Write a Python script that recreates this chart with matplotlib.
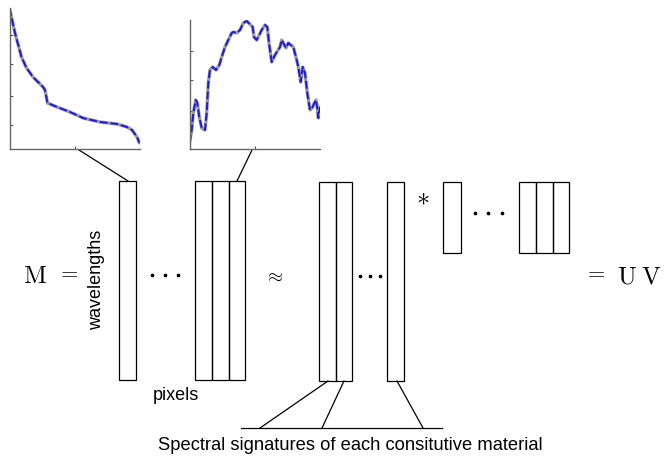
import matplotlib
matplotlib.use("Agg")
import matplotlib.pyplot as plt
from matplotlib.patches import Rectangle

plt.rcParams['mathtext.fontset'] = 'cm'

# ---- spectra (inset curves): x offset, height above inset baseline ----
spec1_x = [0, 5.5, 12, 17, 23.5, 33.5, 35.5, 38, 47.5, 60.5, 73.5, 90.5, 107.5, 117.5, 122.5, 127.5, 130]
spec1_y = [141, 116, 92, 81, 72, 62, 59, 46, 42, 37, 31, 27, 25, 22, 19, 12, 6]
spec1_yticks = [24, 53, 85, 114]

spec2_x = [0, 2.2, 3.8, 6.2, 7.8, 9.8, 12.2, 15.5, 17.2, 18.8, 20.5, 23.2, 26.5, 29.8, 32.2,
           35.5, 38.8, 42.2, 43.8, 47.2, 50.5, 53.8, 57.2, 63.2, 64.5, 67.2, 72.2, 75.5, 77.8,
           79.5, 82.2, 85.5, 90.5, 92.2, 93.8, 96.5, 98.8, 103.8, 107.2, 108.8, 111.2, 113.2,
           115.5, 117.8, 120.5, 123.2, 124.8, 126.5, 127.8, 128.8, 130.5]
spec2_y = [6, 19, 36, 49, 46, 32, 21, 19, 36, 66, 79, 82, 79, 84, 92, 102, 109, 116, 117,
           116, 119, 126, 128, 122, 112, 109, 119, 124, 122, 106, 87, 94, 102, 109, 106, 101,
           106, 102, 89, 82, 67, 82, 76, 56, 39, 42, 46, 49, 41, 31, 42]
spec2_yticks = [38, 69, 98]

# ---- matrix column blocks: (x, y_top, col_width, height, n_cols) ----
blocks_x = [119, 195.3, 319.3, 387.3, 443.3, 519.3]
blocks_top = [181, 181, 182, 182, 182, 182]
blocks_w = [16.7, 16.6, 16.5, 17, 17.4, 16.7]
blocks_h = [199, 199, 199, 199, 71, 71]
blocks_n = [1, 3, 2, 1, 1, 3]

fig = plt.figure(figsize=(6.64, 4.58), dpi=100)
ax = fig.add_axes([0, 0, 1, 1])
ax.set_xlim(0, 664)
ax.set_ylim(458, 0)
ax.axis('off')

for x, t, w, h, n in zip(blocks_x, blocks_top, blocks_w, blocks_h, blocks_n):
    for k in range(n):
        ax.add_patch(Rectangle((x + k * w, t), w, h, fill=False, ec='black', lw=0.9))

# connector lines
lines = [((79, 150), (128, 181)), ((252, 150), (237, 181)),
         ((328, 381), (260, 428)), ((344, 381), (322, 428)),
         ((397, 381), (423, 428)), ((241, 428), (442, 428))]
for (x0, y0), (x1, y1) in lines:
    ax.plot([x0, x1], [y0, y1], color='black', lw=0.9)

# dots
ax.plot([152, 165, 178], [274.5, 274.5, 274.5], 'k.', ms=3.3)
ax.plot([360, 370, 380], [276, 276, 276], 'k.', ms=3.3)
ax.plot([475, 488, 501.5], [213, 213, 213], 'k.', ms=3.3)

# math text
ax.text(35, 276, r'$\mathrm{M}$', fontsize=18, ha='center', va='center')
ax.text(67.5, 272, r'$=$', fontsize=16, ha='center', va='center')
ax.text(274, 276, r'$\approx$', fontsize=14, ha='center', va='center')
ax.text(423, 197, r'$\ast$', fontsize=19, ha='center', va='center')
ax.text(595, 272, r'$=$', fontsize=16, ha='center', va='center')
ax.text(626.5, 276, r'$\mathrm{U}$', fontsize=18, ha='center', va='center')
ax.text(651, 276, r'$\mathrm{V}$', fontsize=18, ha='center', va='center')

sans = 'Liberation Sans'
ax.text(97, 280, 'wavelengths', rotation=90, fontsize=13, family=sans,
        ha='center', va='center')
ax.text(176, 396, 'pixels', fontsize=13, family=sans, ha='center', va='center')
ax.text(350, 446, 'Spectral signatures of each consitutive material', fontsize=13.2,
        family=sans, ha='center', va='center')

def inset(left, right, top, bottom, xs, ys, yticks):
    a = fig.add_axes([left / 664, 1 - bottom / 458, (right - left) / 664, (bottom - top) / 458])
    a.plot(xs, ys, color='#9a9a9a', lw=2.4, solid_capstyle='round')
    a.plot(xs, ys, color='#1a1ae6', lw=1.4, dashes=(4, 1.5))
    a.set_xlim(0, right - left)
    a.set_ylim(0, bottom - top)
    a.set_xticks([(right - left) / 2])
    a.set_yticks(yticks)
    a.tick_params(direction='in', length=2.5, color='#555555', labelleft=False, labelbottom=False)
    for s in ['top', 'right']:
        a.spines[s].set_visible(False)
    for s in ['left', 'bottom']:
        a.spines[s].set_color('#666666')
        a.spines[s].set_linewidth(1.0)
    a.patch.set_alpha(0)

inset(9.5, 140, 8, 149, spec1_x, spec1_y, spec1_yticks)
inset(189.5, 320, 20, 149, spec2_x, spec2_y, spec2_yticks)

fig.savefig('out.png', dpi=100)
